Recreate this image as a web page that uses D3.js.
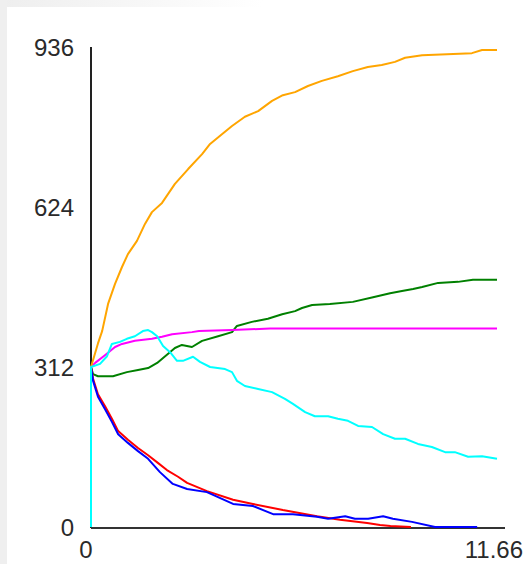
<!DOCTYPE html>
<html>
<head>
<meta charset="utf-8">
<script src="https://cdn.jsdelivr.net/npm/d3@7"></script>
<style>
  html, body { margin: 0; padding: 0; background: #fff; }
  svg { display: block; }
  text { font-family: "Liberation Sans", Arial, sans-serif; font-size: 24px; fill: #2a2a2a; }
</style>
</head>
<body>
<svg width="526" height="564"></svg>
<script>
// valeurs : [temps, effectif]
const orange = [[0,312],[0.1,335],[0.2,358],[0.32,382],[0.49,435],[0.69,474],[0.89,507],[1.06,532],[1.32,558],[1.55,591],[1.75,614],[2.04,632],[2.41,669],[2.79,698],[3.19,727],[3.42,747],[3.76,766],[4.05,782],[4.42,800],[4.8,811],[5.2,831],[5.51,842],[5.86,848],[6.23,860],[6.63,870],[7.09,879],[7.52,889],[7.95,897],[8.35,901],[8.73,907],[9.02,915],[9.51,920],[10.94,924],[11.23,930],[11.66,930]];
const vert = [[0,312],[0.06,298],[0.2,294],[0.63,294],[1.03,302],[1.35,306],[1.64,310],[1.9,320],[2.13,333],[2.41,349],[2.61,355],[2.9,351],[3.19,363],[3.65,372],[4.05,380],[4.19,392],[4.62,400],[5.08,406],[5.49,415],[5.86,421],[6.06,427],[6.35,433],[6.86,435],[7.52,439],[8.1,448],[8.59,456],[8.93,460],[9.25,464],[9.51,468],[9.97,476],[10.54,478],[10.97,482],[11.66,482]];
const magenta = [[0,312],[0.12,320],[0.4,335],[0.69,351],[0.89,357],[1.26,363],[1.75,367],[2.04,371],[2.33,376],[2.9,380],[3.1,382],[4.05,384],[5.14,387],[11.66,387]];
const cyan = [[0,0],[0,312],[0.26,318],[0.46,333],[0.6,357],[0.83,361],[1.03,367],[1.26,372],[1.49,382],[1.64,384],[1.75,380],[1.9,372],[2.07,353],[2.27,341],[2.47,324],[2.64,324],[2.93,332],[3.13,322],[3.42,312],[3.85,308],[4.05,302],[4.19,285],[4.42,275],[4.8,269],[5.2,263],[5.57,250],[5.8,240],[6.15,224],[6.43,216],[6.81,216],[7.09,211],[7.38,207],[7.67,197],[8.07,195],[8.39,181],[8.73,172],[9.02,172],[9.39,162],[9.79,156],[10.17,146],[10.45,146],[10.83,137],[11.23,138],[11.66,133]];
const rouge = [[0,312],[0.06,289],[0.2,259],[0.4,236],[0.6,211],[0.78,187],[1.06,170],[1.35,154],[1.64,140],[1.92,125],[2.18,111],[2.5,98],[2.76,86],[3.33,70],[4.08,53],[4.65,45],[5.51,33],[6.49,21],[7.15,14],[7.93,8],[8.3,4],[8.6,2],[9.19,0]];
const bleu = [[0,312],[0.06,285],[0.2,254],[0.4,230],[0.6,205],[0.78,181],[1.06,164],[1.35,148],[1.64,133],[1.98,107],[2.35,84],[2.76,74],[3.33,68],[4.08,45],[4.65,41],[5.23,25],[5.8,25],[6.49,20],[6.81,16],[7.3,21],[7.58,16],[7.96,16],[8.39,21],[8.67,16],[9.22,10],[9.88,0],[11.09,0]];

const yTicks = [0, 312, 624, 936];
const xTicks = [0, 11.66];

const series = [
  {data: vert,    color: "#008000"},
  {data: magenta, color: "#ff00ff"},
  {data: orange,  color: "#ffa500"},
  {data: rouge,   color: "#ff0000"},
  {data: bleu,    color: "#0000ff"},
  {data: cyan,    color: "#00ffff"}
];

const svg = d3.select("svg");

// cadre gris en haut et à gauche
const defs = svg.append("defs");
const grad = defs.append("linearGradient").attr("id","haut");
grad.append("stop").attr("offset","0%").attr("stop-color","#eeeeee");
grad.append("stop").attr("offset","50%").attr("stop-color","#ffffff");
svg.append("rect").attr("x",0).attr("y",0).attr("width",526).attr("height",7).attr("fill","url(#haut)");
svg.append("rect").attr("x",0).attr("y",0).attr("width",7).attr("height",564).attr("fill","#efefef");

const x = d3.scaleLinear().domain([0, 11.66]).range([91, 497]);
const y = d3.scaleLinear().domain([0, 936]).range([527, 47]);

// axes
svg.append("line").attr("x1",x(0)).attr("x2",x(0)).attr("y1",y(936)).attr("y2",528)
   .attr("stroke","#222").attr("stroke-width",2);
svg.append("line").attr("x1",x(0)).attr("x2",505).attr("y1",528).attr("y2",528)
   .attr("stroke","#333").attr("stroke-width",2);

svg.selectAll("text.yt").data(yTicks).enter().append("text")
   .attr("class","yt").attr("x",74).attr("y",d=>y(d)+9).attr("text-anchor","end").text(d=>d);
svg.append("text").attr("x",x(xTicks[0])-5).attr("y",558).attr("text-anchor","middle").text(xTicks[0]);
svg.append("text").attr("x",523).attr("y",558).attr("text-anchor","end").text(xTicks[1]);

const line = d3.line().x(d=>x(d[0])).y(d=>y(d[1]));
svg.selectAll("path.serie").data(series).enter().append("path")
   .attr("class","serie")
   .attr("d",d=>line(d.data))
   .attr("fill","none")
   .attr("stroke",d=>d.color)
   .attr("stroke-width",2)
   .attr("stroke-linejoin","round");
</script>
</body>
</html>
